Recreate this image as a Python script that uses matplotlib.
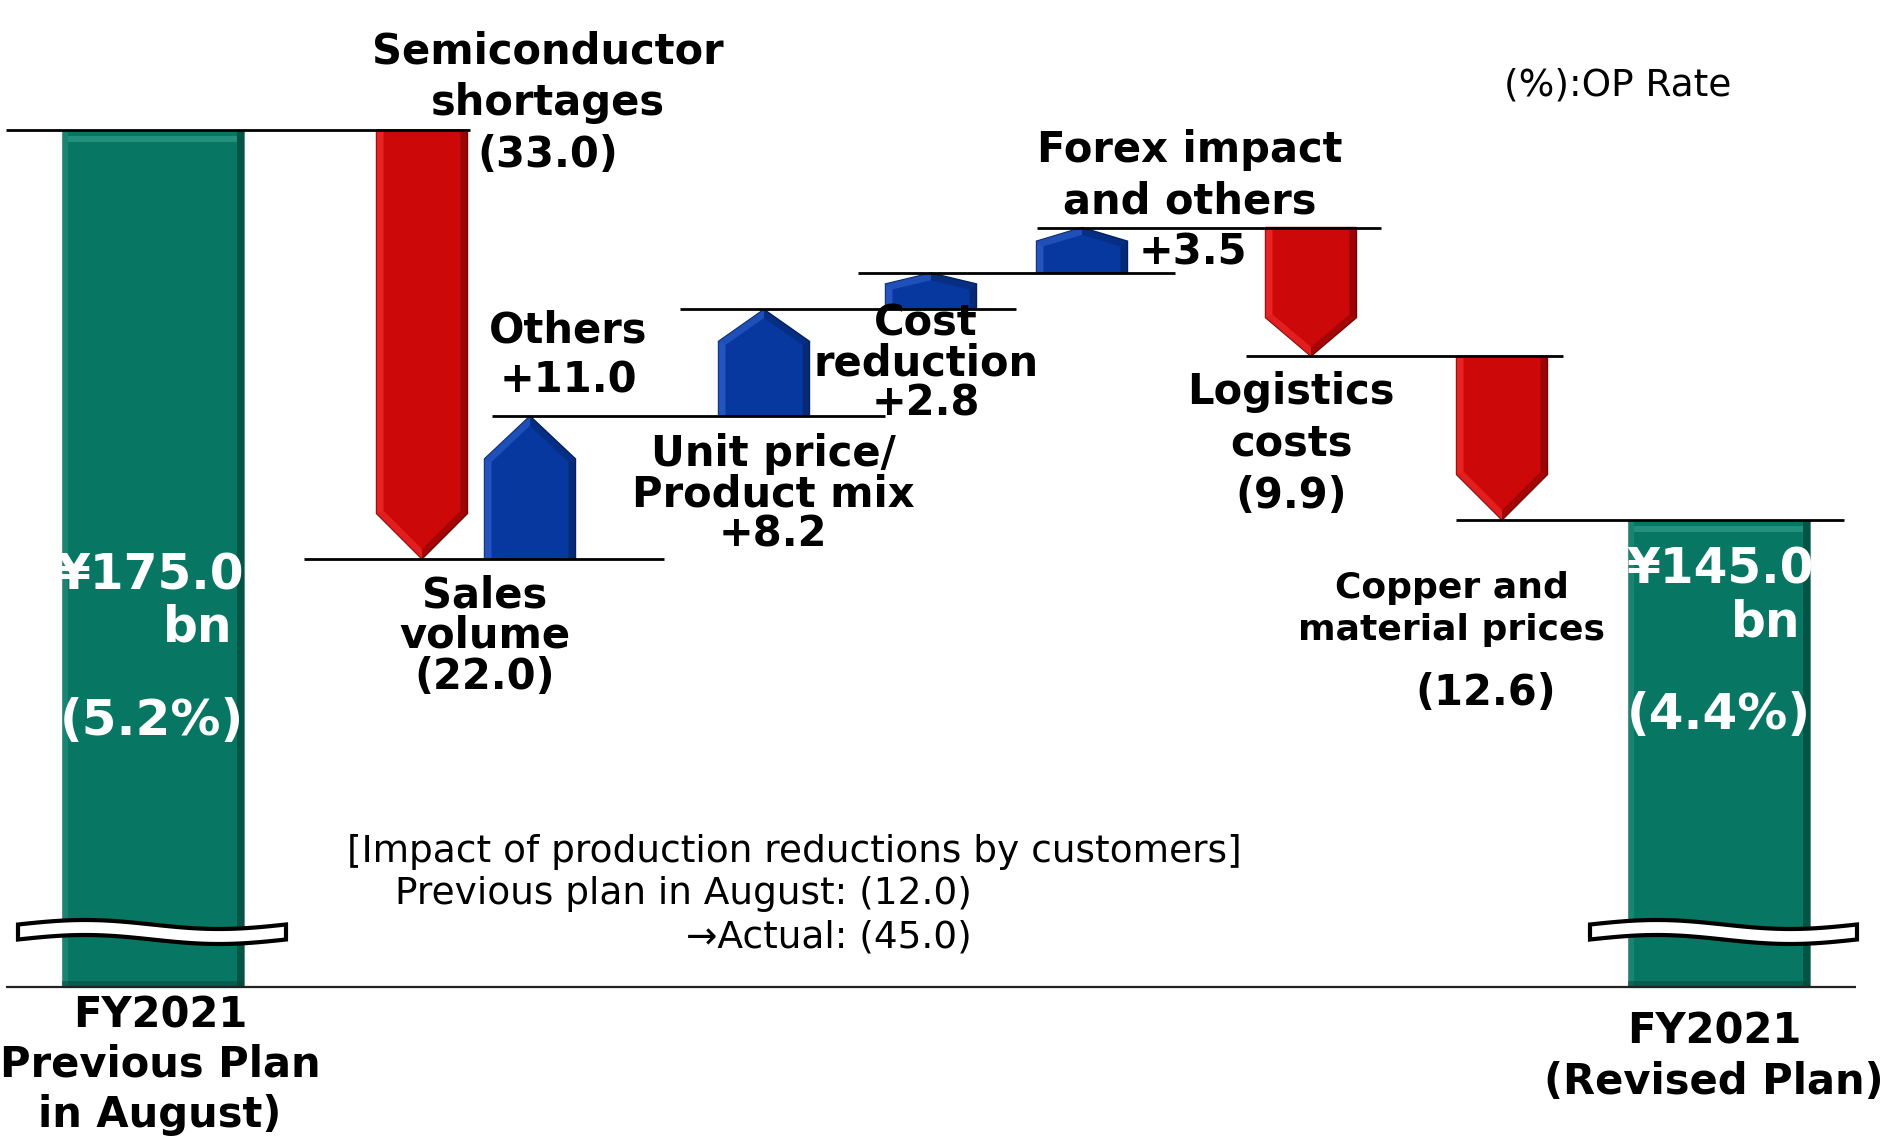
import numpy as np
import matplotlib
matplotlib.use("Agg")
import matplotlib.pyplot as plt
from matplotlib.patches import Polygon, Rectangle

plt.rcParams['font.family'] = ['DejaVu Sans']

# ---- data (JPY bn) ----
start_label = ["FY2021", "Previous Plan", "in August)"]
end_label = ["FY2021", "(Revised Plan)"]
start_value = 175.0
end_value = 145.0
op_rates = [5.2, 4.4]
step_names = [["Semiconductor", "shortages"], ["Others"], ["Unit price/", "Product mix"],
              ["Cost", "reduction"], ["Forex impact", "and others"],
              ["Logistics", "costs"], ["Copper and", "material prices"]]
step_values = [-33.0, 11.0, 8.2, 2.8, 3.5, -9.9, -12.6]
sales_volume = -22.0
reduction_prev = -12.0
reduction_actual = -45.0

# ---- layout ----
W, H = 1890, 1141
K = 13.0          # pixels per bn
TOP_PX = 130      # pixel row of the start value
arrow_x = [422, 530, 764, 931, 1082, 1311, 1502]
arrow_w = 91
total_x = [153, 1719]
total_w = 182
line_spans = [(6, 470), (304, 664), (492, 885), (680, 1016),
              (858, 1175), (1037, 1381), (1246, 1563), (1456, 1844)]

red = dict(base='#CC0808', light='#FF3A3A', dark='#780303')
blue = dict(base='#0638A0', light='#3F6CD8', dark='#06225E')
green = dict(base='#077763', light='#35A28C', dark='#03463A')


def v(px):
    # pixel row -> value on the (broken) axis
    return start_value - (px - TOP_PX) / K


def lp(val):
    return TOP_PX + (start_value - val) * K


def fmt(x):
    return f"+{x:.1f}" if x > 0 else f"({abs(x):.1f})"


fig = plt.figure(figsize=(W / 100, H / 100), dpi=100)
ax = fig.add_axes([0, 0, 1, 1])
ax.set_xlim(0, W)
ax.set_ylim(v(H), v(0))
ax.axis('off')

base = v(987)
levels = start_value + np.cumsum(step_values)
starts = np.concatenate([[start_value], levels[:-1]])
all_levels = np.concatenate([[start_value], levels])


def draw_arrow(xc, y0, y1, w, pal):
    L = abs(y1 - y0) * K
    s = np.sign(y1 - y0)
    hpx = min(0.5 * w, 0.3 * L)
    h = hpx / K
    xl, xr = xc - w / 2, xc + w / 2
    sh = y1 - s * h
    d = min(7, 0.2 * L)
    m = hpx / (w / 2)
    off = d * np.sqrt(1 + m * m)
    il, ir = xl + d, xr - d
    ish = sh + s * (d * m - off) / K
    itip = y1 - s * off / K
    ax.add_patch(Polygon([(xl, y0), (xr, y0), (xr, sh), (xc, y1), (xl, sh)],
                         fc=pal['base'], ec=pal['dark'], lw=1.0, zorder=3))
    facets = [([(xl, y0), (il, y0), (il, ish), (xl, sh)], pal['light'], 0.55),
              ([(ir, y0), (xr, y0), (xr, sh), (ir, ish)], pal['dark'], 0.6),
              ([(xl, sh), (il, ish), (xc, itip), (xc, y1)], pal['light'], 0.45),
              ([(xc, y1), (xc, itip), (ir, ish), (xr, sh)], pal['dark'], 0.45)]
    for pts, c, a in facets:
        ax.add_patch(Polygon(pts, fc=c, ec='none', alpha=a, zorder=4))


# total bars
bars = ax.bar(total_x, [start_value - base, end_value - base], bottom=base,
              width=total_w, color=green['base'], edgecolor='#5E8F86', lw=0.8, zorder=2)
for b in bars:
    x0, y0, bw, bh = b.get_x(), b.get_y(), b.get_width(), b.get_height()
    ax.add_patch(Rectangle((x0 + 1, y0), 5, bh, fc=green['light'], ec='none', alpha=0.35, zorder=2.5))
    ax.add_patch(Rectangle((x0 + bw - 7, y0), 7, bh, fc=green['dark'], ec='none', alpha=0.7, zorder=2.5))
    ax.add_patch(Rectangle((x0, y0), bw, 6 / K, fc=green['dark'], ec='none', alpha=0.5, zorder=2.5))
    ax.add_patch(Rectangle((x0 + 6, y0 + bh - 12 / K), bw - 13, 6 / K, fc=green['light'], ec='none', alpha=0.6, zorder=2.5))

# step arrows
for xc, s0, val in zip(arrow_x, starts, step_values):
    draw_arrow(xc, s0, s0 + val, arrow_w, red if val < 0 else blue)

# connector lines
for lev, (x0, x1) in zip(all_levels, line_spans):
    ax.hlines(lev, x0, x1, color='black', lw=2, zorder=5)
ax.hlines(base, 6, 1856, color='#222222', lw=1.6, zorder=5)

# axis break marks
for x0, x1 in [(18, 286), (1590, 1857)]:
    t = np.linspace(0, 1, 80)
    xs = x0 + (x1 - x0) * t
    c = 932 - 4.5 * np.sin(2 * np.pi * t)
    pts = list(zip(xs, v(c - 7.5))) + list(zip(xs[::-1], v(c[::-1] + 7.5)))
    ax.add_patch(Polygon(pts, closed=True, fc='white', ec='black', lw=3, zorder=6))

bold = dict(fontsize=30, fontweight='bold', color='black', ha='center', va='center', zorder=7)


def block(x, val, first_off, texts, spacing, **kw):
    # one multi-line text; first_off is the first line's centre below the level (px)
    style = dict(bold)
    style.update(kw)
    fs_px = style['fontsize'] * 100 / 72
    n = len(texts)
    centre = first_off + spacing * (n - 1) / 2
    ax.text(x, v(lp(val) + centre), "\n".join(texts),
            linespacing=spacing / (0.95 * fs_px), **style)


# step labels
block(548, all_levels[0], -78, step_names[0] + [fmt(step_values[0])], 51.5)
block(568, all_levels[2], -85, step_names[1] + [fmt(step_values[1])], 49)
block(485, all_levels[1], 39, ["Sales", "volume", fmt(sales_volume)], 38)
block(773, all_levels[2], 41, step_names[2] + [fmt(step_values[2])], 37.5)
block(926, all_levels[3], 17, step_names[3] + [fmt(step_values[3])], 37)
block(1190, all_levels[5], -77, step_names[4], 51)
block(1139, all_levels[5], 25, [fmt(step_values[4])], 40, ha='left')
block(1291, all_levels[6], 36, step_names[5] + [fmt(step_values[5])], 51.5)
block(1452, all_levels[7], 67, step_names[6], 44, fontsize=26)
block(1486, all_levels[7], 173, [fmt(step_values[6])], 40)

# totals inside bars
white = dict(fontsize=35, fontweight='bold', color='white', va='center', zorder=7)
ax.text(150, v(576), f"¥{start_value:.1f}", ha='center', **white)
ax.text(232, v(628), "bn", ha='right', **white)
ax.text(152, v(721), f"({op_rates[0]:.1f}%)", ha='center', fontsize=36,
        fontweight='bold', color='white', va='center', zorder=7)
ax.text(1720, v(570), f"¥{end_value:.1f}", ha='center', **white)
ax.text(1800, v(623), "bn", ha='right', **white)
ax.text(1719, v(715), f"({op_rates[1]:.1f}%)", ha='center', fontsize=36,
        fontweight='bold', color='white', va='center', zorder=7)

# category labels
block(160, start_value, 1016 - TOP_PX, start_label, 49)
block(1714, start_value, 1032 - TOP_PX, end_label, 50)

# notes
note = dict(fontsize=27, color='black', va='center', zorder=7)
ax.text(1504, v(86), "(%):OP Rate", ha='left', **note)
ax.text(347, v(852), "[Impact of production reductions by customers]", ha='left', **note)
ax.text(972, v(894), f"Previous plan in August: {fmt(reduction_prev)}", ha='right', **note)
ax.text(972, v(938), f"→Actual: {fmt(reduction_actual)}", ha='right', **note)

fig.savefig("out.png", dpi=100, facecolor='white')
